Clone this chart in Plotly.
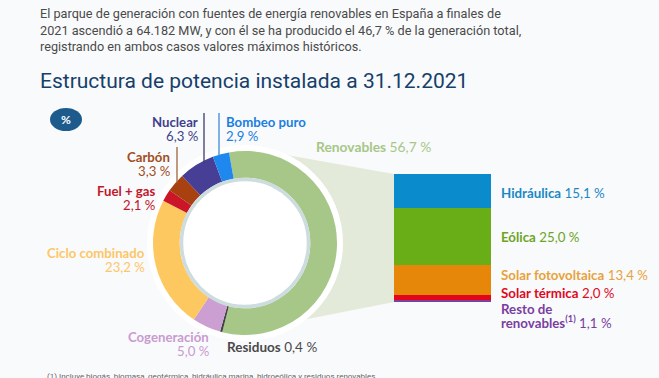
import plotly.graph_objects as go

W, H = 659, 378

# ---------------- data ----------------
categories = ["Renovables", "Residuos", "Cogeneración", "Ciclo combinado",
              "Fuel + gas", "Carbón", "Nuclear", "Bombeo puro"]
values = [56.7, 0.4, 5.0, 23.2, 2.1, 3.3, 6.3, 2.9]
value_labels = ["56,7 %", "0,4 %", "5,0 %", "23,2 %", "2,1 %", "3,3 %", "6,3 %", "2,9 %"]

ren_categories = ["Hidráulica", "Eólica", "Solar fotovoltaica", "Solar térmica", "Resto de renovables"]
ren_values = [15.1, 25.0, 13.4, 2.0, 1.1]
ren_value_labels = ["15,1 %", "25,0 %", "13,4 %", "2,0 %", "1,1 %"]

intro_lines = [
    "El parque de generación con fuentes de energía renovables en España a finales de",
    "2021 ascendió a 64.182 MW, y con él se ha producido el 46,7 % de la generación total,",
    "registrando en ambos casos valores máximos históricos.",
]
title_text = "Estructura de potencia instalada a 31.12.2021"
footnote = "(1) Incluye biogás, biomasa, geotérmica, hidráulica marina, hidroeólica y residuos renovables."

# ---------------- styles ----------------
pie_colors = ["#a6c787", "#444444", "#cc9fd2", "#fec861", "#cc1526", "#a8410f", "#463f95", "#1e88ee"]
ren_colors = ["#0a8ccc", "#6aae17", "#e6870a", "#e3061b", "#7b3fa0"]
label_colors = ["#a6c787", "#4a4a4a", "#c99bd0", "#fdc766", "#c4162a", "#a24d1c", "#3f3f8f", "#1a7fe0"]
ren_label_colors = ["#1a88c4", "#6ea41e", "#e8a23a", "#e0081c", "#7a3ea0"]

BG = "#f9fafc"
LABEL_FONT = "Lato, Open Sans, sans-serif"


def px(x):
    return x / W


def py(y):
    return 1 - y / H


cx, cy, R = 245, 243, 92

fig = go.Figure()

fig.add_trace(go.Pie(
    labels=categories, values=values, sort=False, direction="clockwise",
    rotation=-10, hole=0.71, marker=dict(colors=pie_colors, line=dict(width=0)),
    textinfo="none", hoverinfo="label+value", showlegend=False,
    domain=dict(x=[px(cx - R), px(cx + R)], y=[py(cy + R), py(cy - R)]),
))

# stacked bar of renewables (bottom first)
for cat, val, col in reversed(list(zip(ren_categories, ren_values, ren_colors))):
    fig.add_trace(go.Bar(
        x=[0], y=[val], name=cat, marker=dict(color=col, line=dict(width=0)),
        width=1, xaxis="x", yaxis="y", showlegend=False,
    ))

bar_x0, bar_x1, bar_top, bar_bot = 394, 491, 174, 302

shapes = []
# wedge linking donut with bar
shapes.append(dict(type="path", xref="paper", yref="paper", layer="below",
                   path=f"M {px(245)},{py(147.6)} L {px(bar_x0)},{py(bar_top)} L {px(bar_x0)},{py(bar_bot)} L {px(245)},{py(331.4)} Z",
                   fillcolor="#e3eada", line=dict(width=0)))
# white halo
hr = 98
shapes.append(dict(type="circle", xref="paper", yref="paper", layer="below",
                   x0=px(cx - hr), x1=px(cx + hr), y0=py(cy + hr), y1=py(cy - hr),
                   fillcolor="#ffffff", line=dict(width=0)))
# inner ring
ir = 63.5
shapes.append(dict(type="circle", xref="paper", yref="paper", layer="above",
                   x0=px(cx - ir), x1=px(cx + ir), y0=py(cy + ir), y1=py(cy - ir),
                   fillcolor="rgba(0,0,0,0)", line=dict(width=3.5, color="#cddcdf")))
# badge
shapes.append(dict(type="circle", xref="paper", yref="paper",
                   x0=px(50), x1=px(82), y0=py(131), y1=py(108),
                   fillcolor="#1d5b8c", line=dict(width=0)))
# leader lines
for x, y0, y1, c in [(204, 113, 163, "#3b3b6b"), (219, 113, 156, "#3d8bd6"), (177, 147, 183, "#a0643a")]:
    shapes.append(dict(type="line", xref="paper", yref="paper",
                       x0=px(x), x1=px(x), y0=py(y0), y1=py(y1),
                       line=dict(width=1.3, color=c)))

ann = []


def add_text(x, y, text, color, size=13, anchor="left", family=LABEL_FONT):
    ann.append(dict(x=px(x), y=py(y), xref="paper", yref="paper", text=text,
                    showarrow=False, xanchor=anchor, yanchor="middle",
                    font=dict(size=size, color=color, family=family)))


# intro text
for i, line in enumerate(intro_lines):
    add_text(38, 14 + i * 16.5, line, "#4a4a4a", size=12.7, family="Roboto, sans-serif")
# title
add_text(38, 81, title_text, "#16406a", size=21, family="Roboto, sans-serif")
# badge text
add_text(66, 119, "<b>%</b>", "#ffffff", size=12, anchor="center")

# donut labels: (index, x, y_name, y_value, anchor)
lab_pos = {
    6: (200, 122, 136, "right"),
    7: (224, 122, 136, "left"),
    5: (172, 157, 171, "right"),
    4: (157, 190.5, 204.5, "right"),
    3: (147, 253, 267, "right"),
    2: (211, 337, 351, "right"),
}
for i, (x, yn, yv, anc) in lab_pos.items():
    add_text(x, yn, f"<b>{categories[i]}</b>", label_colors[i], size=13.2, anchor=anc)
    add_text(x, yv, value_labels[i], label_colors[i], size=13.2, anchor=anc)
add_text(225, 347, f"<b>{categories[1]}</b> {value_labels[1]}", label_colors[1], size=13.5)
add_text(314, 147, f"<b>{categories[0]}</b> {value_labels[0]}", label_colors[0], size=13.8)

# renewables labels
ren_y = [193, 237, 275, 293]
for i in range(4):
    add_text(499, ren_y[i], f"<b>{ren_categories[i]}</b> {ren_value_labels[i]}", ren_label_colors[i], size=13.3)
add_text(499, 308.5, "<b>Resto de</b>", ren_label_colors[4], size=13.3)
add_text(499, 321.5, f"<b>renovables<sup>(1)</sup></b> {ren_value_labels[4]}", ren_label_colors[4], size=13.3)

# footnote
add_text(45, 376, footnote, "#666666", size=8, family="Roboto, sans-serif")

fig.update_layout(
    width=W, height=H, margin=dict(l=0, r=0, t=0, b=0),
    paper_bgcolor=BG, plot_bgcolor="rgba(0,0,0,0)",
    barmode="stack", bargap=0,
    xaxis=dict(domain=[px(bar_x0), px(bar_x1)], range=[-0.5, 0.5], visible=False, fixedrange=True),
    yaxis=dict(domain=[py(bar_bot), py(bar_top)], range=[0, sum(ren_values)], visible=False, fixedrange=True),
    shapes=shapes, annotations=ann,
)

fig.write_html("out.html", config={"displayModeBar": False},
               post_script="document.body.style.margin='0';document.body.style.background='%s';" % BG)
